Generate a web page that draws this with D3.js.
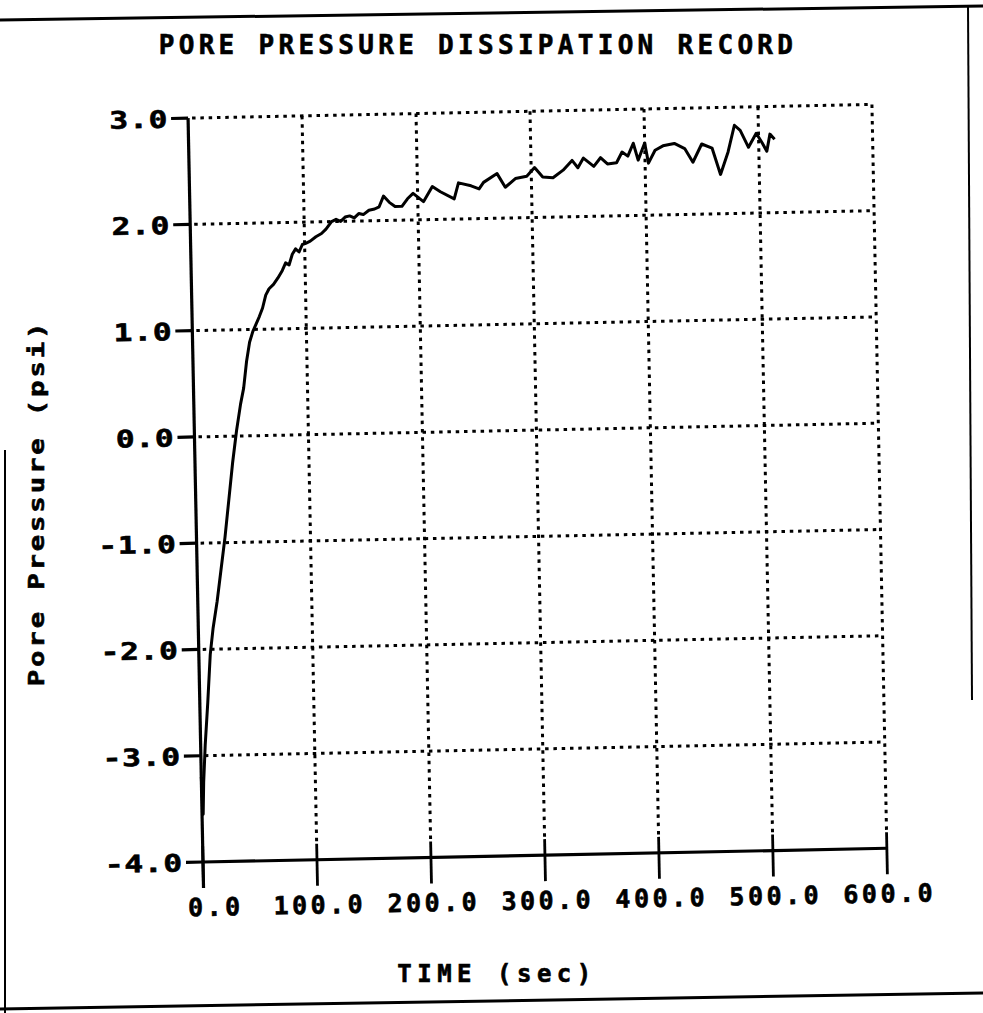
<!DOCTYPE html>
<html>
<head>
<meta charset="utf-8">
<script src="https://cdn.jsdelivr.net/npm/d3@7"></script>
<style>
html,body{margin:0;padding:0;background:#fff;}
svg{display:block;}
text{font-family:"DejaVu Sans Mono",monospace;font-weight:bold;fill:#000;stroke:#000;stroke-width:0.6px;}
</style>
</head>
<body>
<div id="chart"></div>
<script>
// ---- data ----
const titleText = "PORE PRESSURE DISSIPATION RECORD";
const xLabelText = "TIME (sec)";
const yLabelText = "Pore Pressure (psi)";
const xTicks = [0, 100, 200, 300, 400, 500, 600];
const yTicks = [-4, -3, -2, -1, 0, 1, 2, 3];
const timeSec = [0,1,2,4,7,10,13,17,21,25,29,33,37,41,44,47,50,53,56,59,62,65,68,72,76,80,83,86,89,92,95,98,101,105,110,115,119,124,128,132,136,140,144,148,152,157,162,166,170,175,180,186,191,196,
 205,213,220,232,236,247,254,258,270,277,286,296,303,310,319,328,336,341,346,355,361,367,375,380,385,390,394,400,403,409,416,426,435,442,450,459,466,473,479,484,491,498,503,507,510,514];
const pressurePsi = [-3.2,-3.55,-3.25,-2.9,-2.5,-2.05,-1.8,-1.55,-1.25,-0.95,-0.6,-0.25,0.05,0.3,0.45,0.7,0.88,0.98,1.05,1.12,1.2,1.32,1.38,1.42,1.48,1.55,1.62,1.6,1.7,1.75,1.72,1.79,1.8,1.82,1.86,1.89,1.93,2.0,2.02,2.0,2.04,2.05,2.03,2.07,2.06,2.1,2.11,2.13,2.23,2.17,2.13,2.13,2.2,2.25,
 2.17,2.31,2.26,2.19,2.34,2.31,2.28,2.34,2.42,2.29,2.37,2.39,2.47,2.38,2.37,2.44,2.53,2.46,2.55,2.47,2.55,2.49,2.5,2.6,2.56,2.68,2.52,2.68,2.49,2.61,2.65,2.67,2.62,2.49,2.66,2.62,2.37,2.58,2.83,2.78,2.62,2.75,2.66,2.58,2.74,2.69];

// ---- layout ----
const W = 983, H = 1013;
const ox = 203, oy = 862, pw = 684, ph = 744, tilt = -1.15;

const svg = d3.select("#chart").append("svg").attr("width", W).attr("height", H);
svg.append("rect").attr("width", W).attr("height", H).attr("fill", "#fff");

// page frame
const frame = svg.append("g").attr("fill", "none").attr("stroke", "#000");
frame.append("path").attr("d", "M0,20 L983,6").attr("stroke-width", 3);
frame.append("path").attr("d", "M968,5 L972,700").attr("stroke-width", 2);
frame.append("path").attr("d", "M5,450 L5,1013").attr("stroke-width", 2);
frame.append("path").attr("d", "M0,1009 L983,993").attr("stroke-width", 3);

const g = svg.append("g").attr("transform", `translate(${ox},${oy}) rotate(${tilt})`);

const x = d3.scaleLinear().domain([0, 600]).range([0, pw]);
const y = d3.scaleLinear().domain([-4, 3]).range([0, -ph]);

// grid (dotted)
const grid = g.append("g").attr("stroke", "#000").attr("stroke-width", 3).attr("stroke-dasharray", "3.5,4.8");
grid.selectAll(".hg").data(yTicks.filter(d => d > -4)).join("line")
  .attr("x1", x(0) + 4).attr("x2", x(600)).attr("y1", d => y(d)).attr("y2", d => y(d));
grid.selectAll(".vg").data(xTicks.filter(d => d > 0)).join("line")
  .attr("x1", d => x(d)).attr("x2", d => x(d)).attr("y1", y(3)).attr("y2", y(-4) - 16);

// axes
const ax = g.append("g").attr("stroke", "#000").attr("stroke-width", 3.2);
ax.append("line").attr("x1", x(0)).attr("x2", x(600)).attr("y1", y(-4)).attr("y2", y(-4));
ax.append("line").attr("x1", x(0)).attr("x2", x(0)).attr("y1", y(3)).attr("y2", y(-4) + 26);
ax.selectAll(".xt").data(xTicks).join("line")
  .attr("x1", d => x(d)).attr("x2", d => x(d)).attr("y1", y(-4) - 16).attr("y2", y(-4) + 26)
  .attr("stroke-width", 2.8);
ax.selectAll(".yt").data(yTicks).join("line")
  .attr("x1", x(0) - 17).attr("x2", x(0)).attr("y1", d => y(d)).attr("y2", d => y(d));

// tick labels (horizontally stretched to mimic the wide plotter font)
const ySX = 1.3;
g.selectAll(".yl").data(yTicks).join("text")
  .attr("transform", d => `translate(${x(0) - 20},${y(d) + 9}) scale(${ySX},1)`)
  .attr("text-anchor", "end").attr("font-size", 24).attr("letter-spacing", 0.6)
  .text(d => d3.format(".1f")(d).replace("−", "-"));
g.selectAll(".xl").data(xTicks).join("text")
  .attr("x", d => x(d) + (d === 0 ? 12 : 2)).attr("y", y(-4) + 54)
  .attr("text-anchor", "middle").attr("font-size", 25).attr("letter-spacing", 3.5)
  .text(d => d3.format(".1f")(d));

// data line
const line = d3.line().x((d, i) => x(timeSec[i])).y(d => y(d));
g.append("path").datum(pressurePsi).attr("d", line)
  .attr("fill", "none").attr("stroke", "#000").attr("stroke-width", 3).attr("stroke-linejoin", "round");

// titles
svg.append("text").attr("x", 478).attr("y", 54).attr("text-anchor", "middle")
  .attr("font-size", 26).attr("letter-spacing", 4.3).text(titleText);
svg.append("text").attr("x", 497).attr("y", 982).attr("text-anchor", "middle")
  .attr("font-size", 24).attr("letter-spacing", 5.5).text(xLabelText);
svg.append("text").attr("transform", "translate(44,503) rotate(-90) scale(1.3,1)").attr("text-anchor", "middle")
  .attr("font-size", 21).attr("letter-spacing", 2.2).text(yLabelText);
</script>
</body>
</html>
